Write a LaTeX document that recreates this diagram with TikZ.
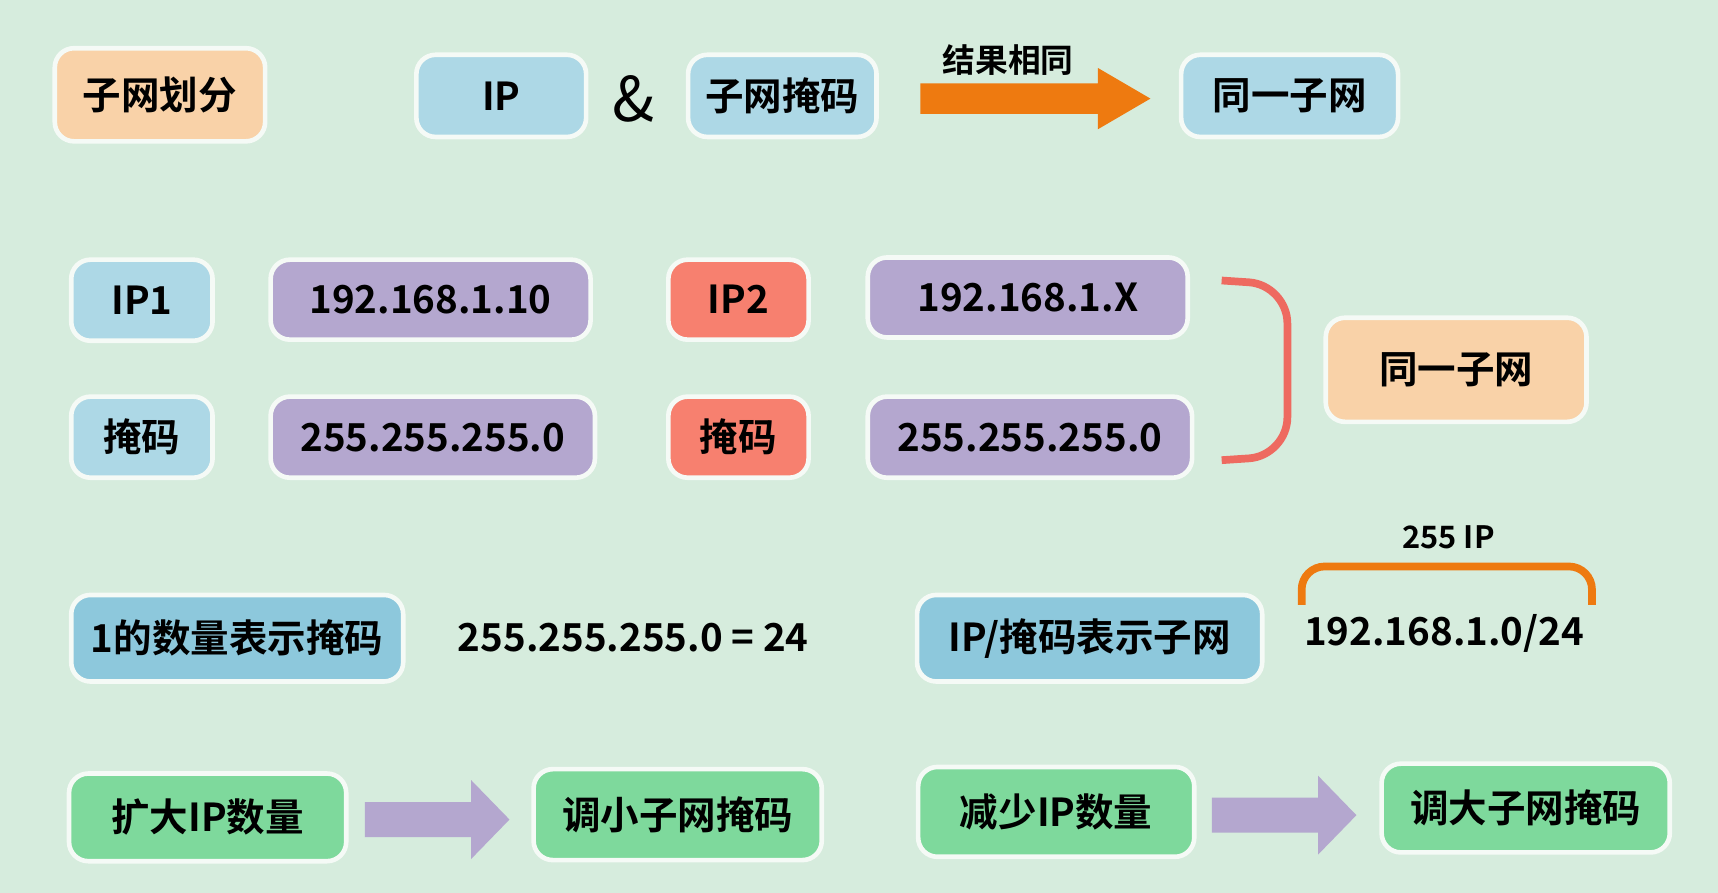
\documentclass[tikz,border=0pt]{standalone}
\usepackage{fontspec}
\setmainfont{Noto Sans CJK SC}[BoldFont={Noto Sans CJK SC Bold}]
\definecolor{bg}{HTML}{D6ECDD}
\definecolor{peach}{HTML}{F9D2A8}
\definecolor{lblue}{HTML}{ADD8E6}
\definecolor{dblue}{HTML}{8DC8DC}
\definecolor{purp}{HTML}{B4A7CF}
\definecolor{salmon}{HTML}{F7806F}
\definecolor{grn}{HTML}{7ED99C}
\definecolor{orng}{HTML}{EE7A10}
\definecolor{brk}{HTML}{EE6A60}
\begin{document}
\begin{tikzpicture}[x=0.01cm,y=-0.01cm,
  box/.style={draw=white!75!bg,line width=1.2pt,rounded corners=5pt,inner sep=0pt,font=\bfseries\fontsize{10}{12}\selectfont},
  txt/.style={font=\bfseries\fontsize{10}{12}\selectfont}]
\fill[bg] (0,0) rectangle (1568,815);
\useasboundingbox (0,0) rectangle (1568,815);
\newcommand\bx[7]{\node[box,fill=#6,minimum width={(#4-#2)*0.01cm},minimum height={(#5-#3)*0.01cm}] (#1) at ({(#2+#4)/2},{(#3+#5)/2}) {#7};}
% row 1
\bx{a1}{50}{44}{242}{129}{peach}{子网划分}
\bx{ip}{380}{50}{535}{125}{lblue}{IP}
\node[font=\fontsize{16}{18}\selectfont] (amp) at (578,90) {\&};
\bx{mask}{628}{50}{800}{125}{lblue}{子网掩码}
\bx{same}{1078}{50}{1276}{125}{lblue}{同一子网}
\fill[orng] (840,76) -- (1002,76) -- (1002,62) -- (1050,90) -- (1002,118) -- (1002,104) -- (840,104) -- cycle;
\node[txt,font=\bfseries\fontsize{8.5}{10}\selectfont] (res) at (920,55) {结果相同};
% row 2
\bx{ip1}{65}{237}{194}{311}{lblue}{IP1}
\bx{v1}{247}{237}{539}{310}{purp}{192.168.1.10}
\bx{ip2}{610}{237}{738}{310}{salmon}{IP2}
\bx{v2}{792}{235}{1084}{308}{purp}{192.168.1.X}
\bx{m1}{65}{362}{194}{436}{lblue}{掩码}
\bx{v3}{247}{362}{543}{436}{purp}{255.255.255.0}
\bx{m2}{610}{362}{738}{436}{salmon}{掩码}
\bx{v4}{792}{362}{1088}{436}{purp}{255.255.255.0}
\draw[brk,line width=2pt,rounded corners=10pt] (1115,256) -- (1175,260) -- (1175,416) -- (1115,420);
\bx{same2}{1210}{290}{1448}{385}{peach}{同一子网}
% row 3
\bx{cnt}{65}{543}{368}{622}{dblue}{1的数量表示掩码}
\node[txt] (eq) at (578,582) {255.255.255.0 = 24};
\bx{ipm}{837}{543}{1152}{622}{dblue}{IP/掩码表示子网}
\node[txt] (cidr) at (1318,578) {192.168.1.0/24};
\draw[orng,line width=2pt,rounded corners=6pt] (1188,552) -- (1188,517) -- (1453,517) -- (1453,552);
\node[txt,font=\bfseries\fontsize{8}{10}\selectfont] (n255) at (1322,490) {255 IP};
% row 4
\bx{g1}{63}{706}{316}{786}{grn}{扩大IP数量}
\bx{g2}{487}{702}{750}{785}{grn}{调小子网掩码}
\bx{g3}{838}{700}{1090}{782}{grn}{减少IP数量}
\bx{g4}{1261}{697}{1524}{778}{grn}{调大子网掩码}
\fill[purp] (333,732) -- (430,732) -- (430,712) -- (465,748) -- (430,784) -- (430,764) -- (333,764) -- cycle;
\fill[purp] (1106,728) -- (1203,728) -- (1203,708) -- (1238,744) -- (1203,780) -- (1203,760) -- (1106,760) -- cycle;
\end{tikzpicture}
\end{document}
